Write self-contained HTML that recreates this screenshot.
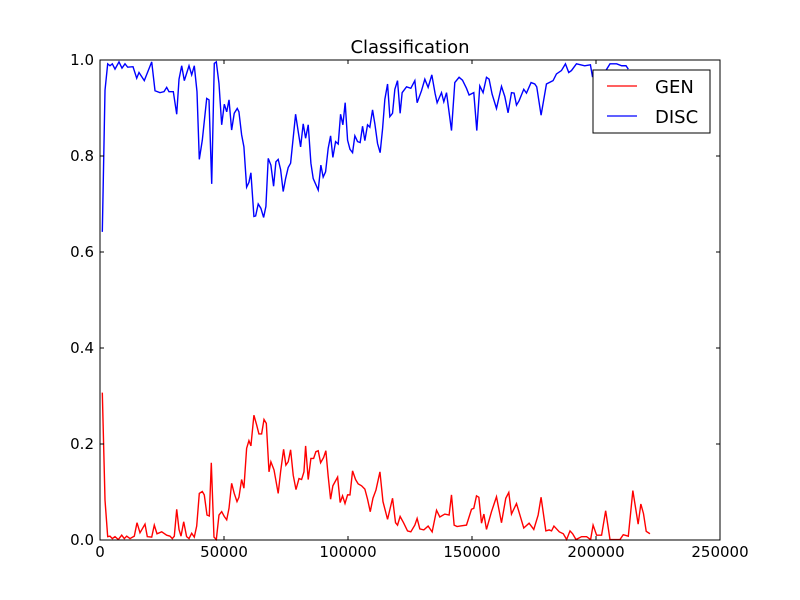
<!DOCTYPE html>
<html><head><meta charset="utf-8"><style>
html,body{margin:0;padding:0;background:#fff;}
svg{display:block;font-family:"DejaVu Sans","Liberation Sans",sans-serif;}
</style></head><body>
<svg id="chart" width="800" height="600">
<rect x="0" y="0" width="800" height="600" fill="#fff"/>
<text x="410" y="53" text-anchor="middle" font-size="18">Classification</text>
<g id="lines"></g>
<rect x="100" y="60" width="620" height="480" fill="none" stroke="#000" stroke-width="1"/>
<g id="axes"></g>
<g>
<rect x="593" y="70" width="117" height="63" fill="#fff" stroke="#000" stroke-width="1"/>
<line x1="607" y1="86" x2="637" y2="86" stroke="#ff0000" stroke-width="1.2"/>
<text x="655" y="93" font-size="18">GEN</text>
<line x1="607" y1="116" x2="637" y2="116" stroke="#0000ff" stroke-width="1.2"/>
<text x="655" y="123" font-size="18">DISC</text>
</g>
</svg>
<script>
const xTicks=[0,50000,100000,150000,200000,250000];
const xTickLabels=["0","50000","100000","150000","200000","250000"];
const yTicks=[0,0.2,0.4,0.6,0.8,1.0];
const yTickLabels=["0.0","0.2","0.4","0.6","0.8","1.0"];
const discX=[930,2020,3100,4030,4960,6050,7660,8870,10080,11170,13310,14800,15730,17860,20850,22180,24190,25810,26890,27820,29560,30930,31860,32940,34000,35890,36970,38020,39110,40040,41250,43030,43950,45040,46090,46900,47980,49070,50120,51090,52020,53080,54130,55340,56020,57110,58030,59120,60050,60850,62060,62750,63800,64880,65970,66900,67830,68910,70000,70930,71850,72820,73870,74840,75890,76860,78870,79920,80890,81940,82910,83960,85040,85970,87990,89060,89990,90960,92010,92980,93900,94990,96050,97010,97940,98860,99830,100800,101840,102770,103850,104900,105870,106800,107880,108810,109900,110830,111910,112960,113930,114860,115950,116870,117960,118890,119970,121020,121830,123600,125330,126950,127870,129640,130980,132310,133800,135130,135940,137700,138630,139720,141730,143070,144800,146170,147780,148830,150720,151930,153140,154470,155840,156890,158100,159870,161890,163220,164550,165920,166970,167940,168980,170870,171960,173820,175310,176110,177850,180020,182690,184050,186060,187680,189010,190100,192120,195440,197750,198550,201600,203600,205640,208330,210350,212100,213030];
const discY=[0.642,0.937,0.992,0.988,0.992,0.981,0.996,0.983,0.992,0.985,0.986,0.962,0.974,0.957,0.996,0.936,0.932,0.934,0.943,0.934,0.934,0.887,0.960,0.988,0.957,0.988,0.969,0.988,0.934,0.793,0.833,0.920,0.917,0.742,0.993,0.996,0.951,0.865,0.908,0.892,0.917,0.854,0.889,0.899,0.892,0.844,0.819,0.735,0.745,0.765,0.674,0.675,0.700,0.691,0.672,0.695,0.795,0.781,0.737,0.788,0.793,0.772,0.726,0.753,0.776,0.785,0.887,0.851,0.819,0.867,0.837,0.865,0.785,0.753,0.729,0.781,0.756,0.767,0.816,0.842,0.797,0.830,0.825,0.887,0.865,0.911,0.833,0.814,0.807,0.842,0.830,0.828,0.862,0.832,0.865,0.860,0.896,0.867,0.826,0.807,0.856,0.918,0.950,0.882,0.889,0.939,0.957,0.889,0.932,0.944,0.941,0.957,0.911,0.936,0.960,0.943,0.969,0.930,0.911,0.932,0.913,0.932,0.853,0.953,0.964,0.958,0.941,0.927,0.932,0.853,0.946,0.932,0.964,0.960,0.929,0.899,0.945,0.924,0.890,0.932,0.931,0.906,0.915,0.939,0.931,0.953,0.950,0.944,0.885,0.950,0.957,0.971,0.978,0.992,0.974,0.978,0.992,0.988,0.990,0.966,0.975,0.975,0.992,0.992,0.988,0.988,0.981];
const genX=[930,2020,3100,4030,4960,6050,7380,8750,9800,10760,12100,13830,14920,16130,18150,19070,20850,21890,22980,24880,26890,28230,29150,29960,30930,31860,32670,33750,34920,35890,36970,38020,38990,40040,41250,42050,43150,44070,44880,45960,46900,47980,49070,50120,51090,52020,53080,54130,55240,56020,57110,58030,59120,60050,60850,62060,63150,64080,65170,66130,67060,68150,68910,70170,71850,72820,74030,74960,75890,76860,77910,79030,80240,81290,82240,82910,83960,85040,86140,87060,87990,88960,90170,91070,92010,92980,93900,95810,96840,97800,98790,99830,100800,101840,103050,104100,105470,106800,107880,108970,110060,111270,112880,114100,115950,117960,119170,119970,121020,122390,124000,125330,126950,127870,128960,130580,132310,133930,135700,137020,139040,140770,141730,142800,144000,145080,147780,149800,150720,151810,152760,153840,154790,155840,157860,159870,161890,163620,164830,165920,167940,170870,173020,174910,176670,177850,179780,181110,182080,183040,185190,186820,188160,189520,190580,191930,194190,196210,197830,198830,200250,202250,203890,205640,209670,210990,213030,214860,216990,218080,219150,220250,221760];
const genY=[0.307,0.083,0.007,0.008,0.003,0.007,0.001,0.010,0.003,0.008,0.003,0.008,0.036,0.015,0.033,0.007,0.006,0.031,0.013,0.017,0.010,0.008,0.003,0.008,0.064,0.022,0.008,0.038,0.007,0.003,0.014,0.006,0.029,0.097,0.101,0.094,0.052,0.050,0.161,0.006,0.001,0.052,0.059,0.049,0.042,0.066,0.118,0.097,0.080,0.089,0.126,0.108,0.191,0.207,0.196,0.260,0.240,0.221,0.221,0.251,0.243,0.142,0.163,0.146,0.097,0.142,0.189,0.156,0.163,0.188,0.135,0.105,0.128,0.126,0.142,0.196,0.126,0.170,0.170,0.184,0.186,0.161,0.172,0.186,0.133,0.085,0.113,0.131,0.078,0.092,0.076,0.094,0.094,0.144,0.126,0.117,0.113,0.106,0.085,0.059,0.087,0.104,0.142,0.080,0.043,0.087,0.036,0.031,0.049,0.036,0.019,0.017,0.031,0.045,0.023,0.021,0.029,0.017,0.062,0.048,0.054,0.052,0.094,0.031,0.028,0.029,0.031,0.064,0.066,0.092,0.089,0.035,0.054,0.022,0.059,0.090,0.036,0.087,0.099,0.054,0.076,0.025,0.035,0.022,0.052,0.089,0.019,0.021,0.019,0.029,0.017,0.013,0.001,0.019,0.013,0.001,0.007,0.007,0.001,0.031,0.010,0.010,0.061,0.001,0.001,0.011,0.008,0.103,0.033,0.075,0.055,0.018,0.013];

const NS="http://www.w3.org/2000/svg";
const X0=100,X1=720,Y0=540,Y1=60;
function sx(v){return X0+(v-0)/(250000-0)*(X1-X0);}
function sy(v){return Y0-(v-0)/(1-0)*(Y0-Y1);}
const lines=document.getElementById('lines');
function drawLine(xs,ys,color,name){
  const p=document.createElementNS(NS,'path');
  let d='';
  for(let i=0;i<xs.length;i++){d+=(i?'L':'M')+sx(xs[i]).toFixed(2)+' '+sy(ys[i]).toFixed(2);}
  p.setAttribute('d',d);p.setAttribute('fill','none');p.setAttribute('stroke',color);p.setAttribute('stroke-width','1.4');
  
  
  lines.appendChild(p);
}
drawLine(genX,genY,'#ff0000','gen-series-line');
drawLine(discX,discY,'#0000ff','disc-series-line');
const axes=document.getElementById('axes');
xTicks.forEach((t,i)=>{
  const x=sx(t);
  [[Y0,Y0-4],[Y1,Y1+4]].forEach(([a,b])=>{
    const l=document.createElementNS(NS,'line');
    l.setAttribute('x1',x);l.setAttribute('x2',x);l.setAttribute('y1',a);l.setAttribute('y2',b);l.setAttribute('stroke','#000');
    
    
    axes.appendChild(l);
  });
  const tx=document.createElementNS(NS,'text');
  tx.setAttribute('x',x);tx.setAttribute('y',Y0+17);tx.setAttribute('text-anchor','middle');tx.setAttribute('font-size','15');
  tx.textContent=xTickLabels[i];
  
  
  axes.appendChild(tx);
});
yTicks.forEach((t,i)=>{
  const y=sy(t);
  [[X0,X0+4],[X1,X1-4]].forEach(([a,b])=>{
    const l=document.createElementNS(NS,'line');
    l.setAttribute('x1',a);l.setAttribute('x2',b);l.setAttribute('y1',y);l.setAttribute('y2',y);l.setAttribute('stroke','#000');
    
    
    axes.appendChild(l);
  });
  const tx=document.createElementNS(NS,'text');
  tx.setAttribute('x',X0-6);tx.setAttribute('y',y+5);tx.setAttribute('text-anchor','end');tx.setAttribute('font-size','15');
  tx.textContent=yTickLabels[i];
  
  
  axes.appendChild(tx);
});
</script>
</body></html>
